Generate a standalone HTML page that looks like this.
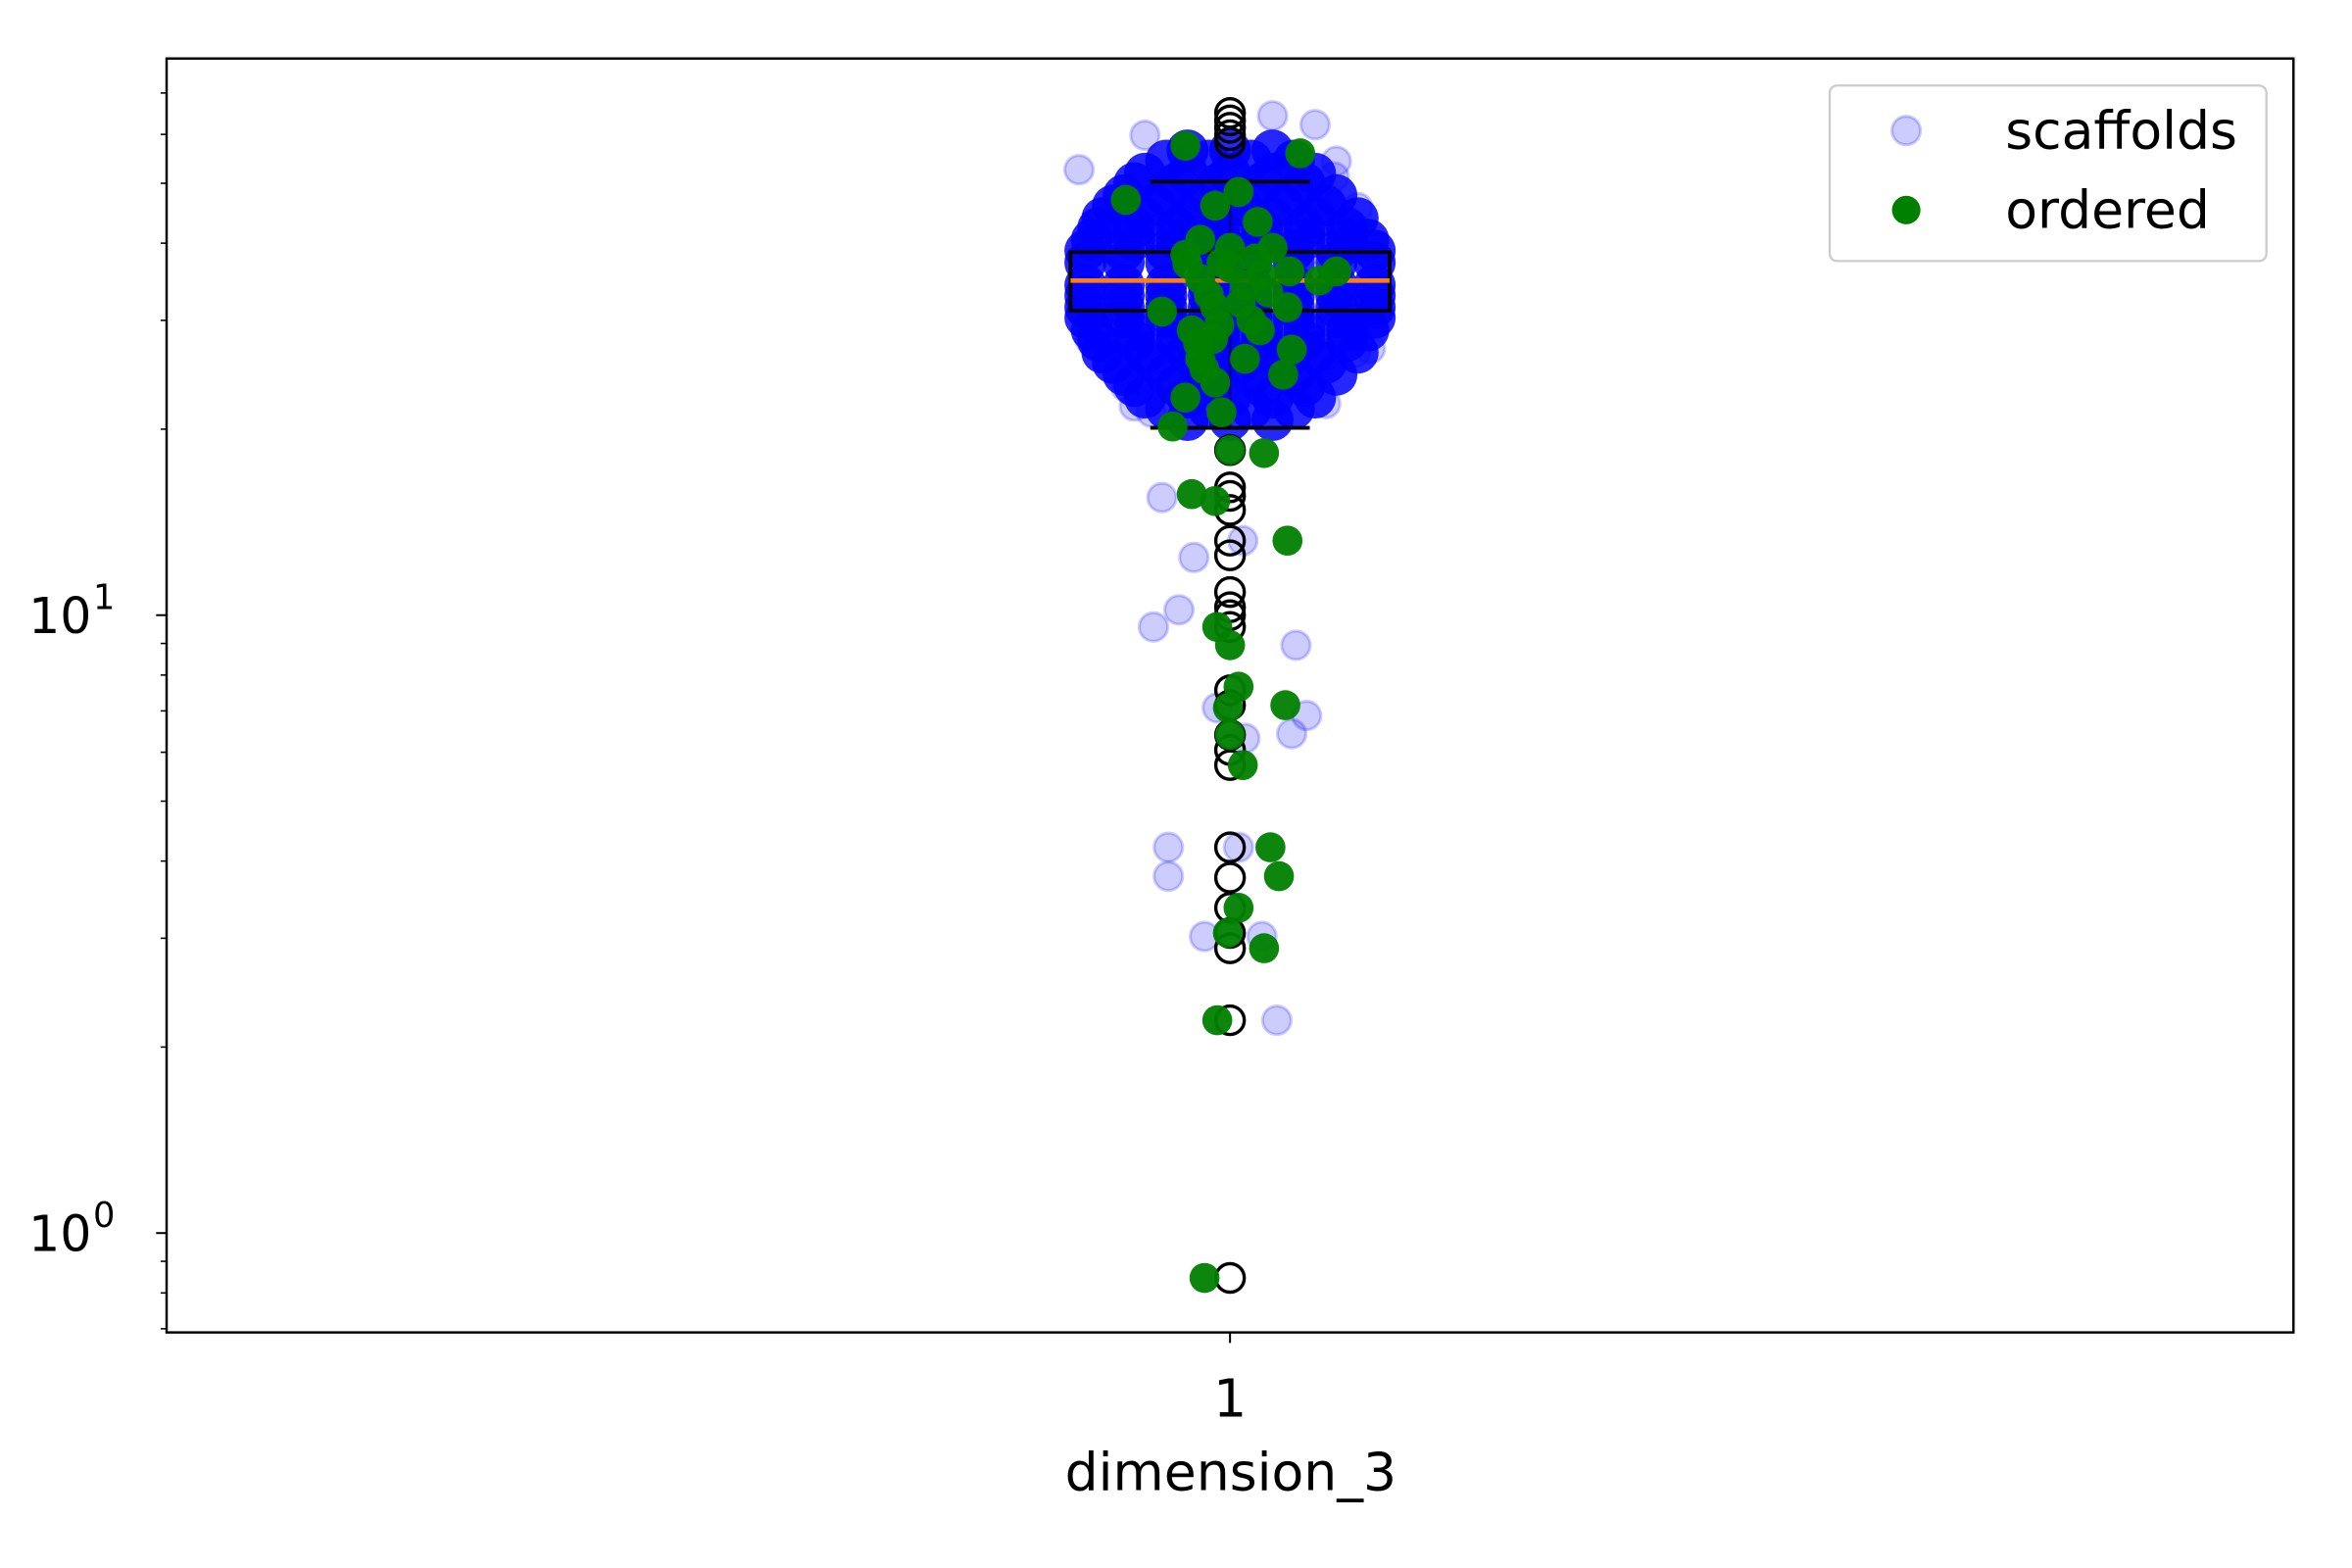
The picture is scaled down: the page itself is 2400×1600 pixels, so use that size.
<!DOCTYPE html>
<html><head><meta charset="utf-8"><style>
html,body{margin:0;padding:0;background:#fff;}
svg{display:block;}
text{font-family:"DejaVu Sans","Liberation Sans",sans-serif;fill:#000;}
</style></head><body>
<svg id="chart" width="2400" height="1600" viewBox="0 0 1567 1045" preserveAspectRatio="none" xmlns="http://www.w3.org/2000/svg">
<rect x="0" y="0" width="1567" height="1045" fill="#fff"/>
<g id="plot"></g>
<g id="axes"></g>
</svg>
<script>
// ---- data ----
const category = 1;
const boxQ1 = 31.1, boxMedian = 34.8, boxQ3 = 38.7, whiskerLow = 20.1, whiskerHigh = 50.3;
const flierValues = [65.0,63.2,61.5,59.8,58.2,18.5,16.1,15.6,14.8,13.2,12.5,10.9,10.3,10.0,9.57,7.56,7.15,6.40,6.05,5.72,4.21,3.76,3.36,3.06,2.89,2.21,0.846];
const scatterOutJitter = [-0.071,-0.040,0.020,0.040,0.050,0.060,0.049,-0.049,-0.037,0.059,-0.032,-0.017,0.006,-0.024,-0.036,0.031,-0.006,0.007,0.029,0.036,-0.029,-0.029,-0.012,0.015,0.022,0.0,0.004,-0.066,0.066,-0.062,0.064,-0.045,0.045];
const scatterOutValue = [52.6,59.8,64.3,62.2,54.3,45.7,51.2,23.4,21.3,26.6,15.5,12.4,13.2,10.2,9.57,8.94,7.08,6.32,6.43,6.88,4.21,3.78,3.02,3.02,2.21,18.5,4.21,28.0,27.0,41.0,40.0,21.8,22.0];
const cloudJitter = [
-0.02,0,0.02,
-0.03,-0.01,0.01,0.03,
-0.04,-0.02,0,0.02,0.04,
-0.045,-0.025,-0.005,0.015,0.035,
-0.05,-0.03,-0.01,0.01,0.03,0.05,
-0.055,-0.035,-0.015,0.005,0.025,0.045,
-0.06,-0.04,-0.02,0,0.02,0.04,0.06,
-0.062,-0.045,-0.025,-0.005,0.015,0.035,0.055,
-0.065,-0.045,-0.025,-0.005,0.015,0.035,0.055,0.065,
-0.068,-0.05,-0.03,-0.01,0.01,0.03,0.05,0.068,
-0.068,-0.05,-0.03,-0.01,0.01,0.03,0.05,0.068,
-0.068,-0.05,-0.03,-0.01,0,0.01,0.03,0.05,0.068,
-0.068,-0.05,-0.03,-0.01,0.01,0.03,0.05,0.068,
-0.068,-0.05,-0.03,-0.01,0.01,0.03,0.05,0.068,
-0.068,-0.05,-0.03,-0.01,0.01,0.03,0.05,0.068,
-0.065,-0.045,-0.025,-0.005,0.015,0.035,0.055,0.065,
-0.062,-0.045,-0.025,-0.005,0.015,0.035,0.055,
-0.06,-0.04,-0.02,0,0.02,0.04,0.06,
-0.055,-0.035,-0.015,0.005,0.025,0.045,
-0.05,-0.03,-0.01,0.01,0.03,0.05,
-0.045,-0.025,-0.005,0.015,0.035,
-0.04,-0.02,0,0.02,0.04,
-0.03,-0.01,0.01,0.03,
-0.02,0,0.02];
const cloudValue = [
56.5,56.5,56.5,
54.4,54.4,54.4,54.4,
51.8,51.8,51.8,51.8,51.8,
50.0,50.0,50.0,50.0,50.0,
47.8,47.8,47.8,47.8,47.8,47.8,
46.0,46.0,46.0,46.0,46.0,46.0,
43.9,43.9,43.9,43.9,43.9,43.9,43.9,
42.3,42.3,42.3,42.3,42.3,42.3,42.3,
40.5,40.5,40.5,40.5,40.5,40.5,40.5,40.5,
38.9,38.9,38.9,38.9,38.9,38.9,38.9,38.9,
37.2,37.2,37.2,37.2,37.2,37.2,37.2,37.2,
34.2,34.2,34.2,34.2,34.2,34.2,34.2,34.2,34.2,
32.9,32.9,32.9,32.9,32.9,32.9,32.9,32.9,
31.5,31.5,31.5,31.5,31.5,31.5,31.5,31.5,
30.3,30.3,30.3,30.3,30.3,30.3,30.3,30.3,
28.9,28.9,28.9,28.9,28.9,28.9,28.9,28.9,
27.8,27.8,27.8,27.8,27.8,27.8,27.8,
26.6,26.6,26.6,26.6,26.6,26.6,26.6,
25.6,25.6,25.6,25.6,25.6,25.6,
24.5,24.5,24.5,24.5,24.5,24.5,
23.5,23.5,23.5,23.5,23.5,
22.5,22.5,22.5,22.5,22.5,
21.6,21.6,21.6,21.6,
20.7,20.7,20.7];
const orderedJitter = [-0.021,0.033,-0.049,0.004,-0.007,0.013,-0.014,0,0.020,-0.021,-0.004,0.028,0.050,0.042,-0.014,0.007,0.018,-0.032,0.027,-0.007,-0.018,0.014,0.029,-0.014,0.007,0.025,-0.007,-0.021,-0.027,-0.004,0,0.016,-0.018,-0.007,0.027,-0.006,0,0.004,-0.001,0.026,0,0.006,0.019,0.023,0.004,-0.001,0.016,-0.006,-0.012,-0.010,0.010,-0.015,0.000,0.015,-0.005,-0.020,-0.008,0.005,0.012,-0.012];
const orderedValue = [57.5,55.9,47.0,48.4,46.0,43.3,40.5,39.3,39.3,38.3,37.2,36.0,36.0,34.8,35.0,34.2,33.3,31.0,31.5,31.5,28.9,28.9,26.9,26.0,26.0,24.5,23.8,22.5,20.2,21.3,18.5,18.3,15.7,15.3,13.2,9.57,8.94,7.66,7.08,7.15,6.40,5.72,4.21,3.78,3.36,3.06,2.89,2.21,0.846,33.0,30.0,27.5,36.5,35.5,29.5,37.0,28.0,32.0,37.8,25.0];
const yMajorTicks = [1, 10];
const yMajorLabels = ["0", "1"];
const yMinorTicks = [0.7,0.8,0.9,2,3,4,5,6,7,8,9,20,30,40,50,60,70];
const xTickLabels = ["1"];

// ---- axes ----
const L = 111, R = 1528, T = 39, B = 888;
const xMin = 0.5, xMax = 1.5;
const yLogMin = Math.log10(0.6905), yLogMax = Math.log10(79.6);
function xs(v){ return L + (v - xMin) / (xMax - xMin) * (R - L); }
function ys(v){ return B - (Math.log10(v) - yLogMin) / (yLogMax - yLogMin) * (B - T); }

const NS = "http://www.w3.org/2000/svg";
function mk(tag, parent, attrs){ const e = document.createElementNS(NS, tag); for (const k in attrs) e.setAttribute(k, attrs[k]); parent.appendChild(e); return e; }
const plot = document.getElementById('plot');
const axes = document.getElementById('axes');

// scaffolds cloud (underneath the box)
scatterOutValue.forEach(function(v, i){
  const c = mk('circle', plot, {cx:xs(category + scatterOutJitter[i]), cy:ys(v), r:9.5, fill:'rgba(0,0,255,0.2)', stroke:'rgba(0,0,255,0.2)', 'stroke-width':2});
  
  
});
cloudValue.forEach(function(v, i){
  const c = mk('circle', plot, {cx:xs(category + cloudJitter[i]), cy:ys(v), r:14, fill:'rgba(0,0,255,0.85)'});
  
  
});
flierValues.forEach(function(v){
  const c = mk('circle', plot, {cx:xs(category), cy:ys(v), r:9.5, fill:'none', stroke:'#000', 'stroke-width':2.2});
  
  
});

const bx0 = xs(category - 0.075), bx1 = xs(category + 0.075);
let e = mk('rect', plot, {x:bx0, y:ys(boxQ3), width:bx1-bx0, height:ys(boxQ1)-ys(boxQ3), fill:'none', stroke:'#000', 'stroke-width':2.5});


e = mk('line', plot, {x1:xs(category), x2:xs(category), y1:ys(boxQ3), y2:ys(whiskerHigh), stroke:'#000', 'stroke-width':2, 'stroke-opacity':0.4});


e = mk('line', plot, {x1:xs(category), x2:xs(category), y1:ys(boxQ1), y2:ys(whiskerLow), stroke:'#000', 'stroke-width':2, 'stroke-opacity':0.4});


[whiskerHigh, whiskerLow].forEach(function(w){
  const c = mk('line', plot, {x1:xs(category-0.0375), x2:xs(category+0.0375), y1:ys(w), y2:ys(w), stroke:'#000', 'stroke-width':2.5});
  
  
});
e = mk('line', plot, {x1:bx0, x2:bx1, y1:ys(boxMedian), y2:ys(boxMedian), stroke:'#ff7f0e', 'stroke-width':3});


orderedValue.forEach(function(v, i){
  const c = mk('circle', plot, {cx:xs(category + orderedJitter[i]), cy:ys(v), r:10, fill:'#008000', 'fill-opacity':0.95});
  
  
});

e = mk('rect', axes, {x:L, y:T, width:R-L, height:B-T, fill:'none', stroke:'#000', 'stroke-width':1.6});


yMajorTicks.forEach(function(v, i){
  const t = mk('line', axes, {x1:L-7, x2:L, y1:ys(v), y2:ys(v), stroke:'#000', 'stroke-width':1.3});
  
  
  const tx = mk('text', axes, {x:L-50, y:ys(v)+12, 'font-size':33, 'text-anchor':'end'});
  tx.textContent = '10';
  
  
  const sup = mk('text', axes, {x:L-49, y:ys(v)-4, 'font-size':23, 'text-anchor':'start'});
  sup.textContent = yMajorLabels[i];
  
  
});
yMinorTicks.forEach(function(v){
  const t = mk('line', axes, {x1:L-4, x2:L, y1:ys(v), y2:ys(v), stroke:'#000', 'stroke-width':1});
  
  
});
xTickLabels.forEach(function(lbl, i){
  const xv = category + i;
  const t = mk('line', axes, {x1:xs(xv), x2:xs(xv), y1:B, y2:B+7, stroke:'#000', 'stroke-width':1.3});
  
  
  const tx = mk('text', axes, {x:xs(xv), y:944, 'font-size':35, 'text-anchor':'middle'});
  tx.textContent = lbl;
  
  
});
</script>
<svg style="position:absolute;left:0;top:0" width="2400" height="1600" viewBox="0 0 1567 1045" preserveAspectRatio="none">
<text x="820" y="993" font-size="35" text-anchor="middle">dimension_3</text>
<g>
<rect x="1219" y="57" width="291" height="117" rx="5" fill="#fff" fill-opacity="0.8" stroke="#ccc" stroke-width="1.5"/>
<circle cx="1270" cy="87" r="9.5" fill="rgba(0,0,255,0.2)" stroke="rgba(0,0,255,0.2)" stroke-width="2"/>
<text x="1336" y="99" font-size="35">scaffolds</text>
<circle cx="1270" cy="140" r="9.5" fill="#008000"/>
<text x="1336" y="152" font-size="35">ordered</text>
</g>
</svg>
</body></html>
